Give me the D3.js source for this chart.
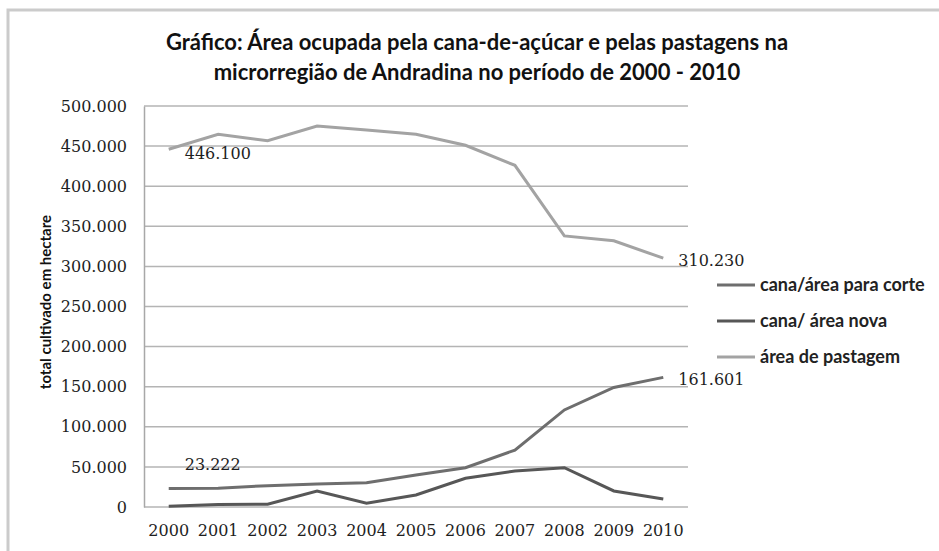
<!DOCTYPE html>
<html>
<head>
  <meta charset="utf-8">
  <title>Área ocupada pela cana-de-açúcar e pelas pastagens</title>
  <script src="https://cdn.jsdelivr.net/npm/d3@7"></script>
  <style>
    body { margin: 0; background: #fff; }
    .tick text { font-family: "DejaVu Serif", serif; fill: #1e1e1e; }
  </style>
</head>
<body>
<svg width="939" height="551"></svg>
<script>
  // dados
  const anos = ['2000','2001','2002','2003','2004','2005','2006','2007','2008','2009','2010'];
  const canaCorte = [23222, 23500, 26600, 28700, 30300, 40000, 49000, 71000, 121000, 149000, 161601];
  const canaNova = [1000, 3000, 3500, 20000, 4600, 15000, 35800, 45000, 49000, 20000, 10000];
  const pastagem = [446100, 464700, 456700, 475000, 470000, 464700, 451000, 426000, 338000, 332000, 310230];
  const yTicks = [0, 50000, 100000, 150000, 200000, 250000, 300000, 350000, 400000, 450000, 500000];

  const series = [
    {nome: 'cana/área para corte', valores: canaCorte, cor: '#6e6e6e'},
    {nome: 'cana/ área nova', valores: canaNova, cor: '#575757'},
    {nome: 'área de pastagem', valores: pastagem, cor: '#a3a3a3'}
  ];

  const svg = d3.select('svg');
  const fmt = v => d3.format(',')(v).replace(/,/g, '.');

  // moldura
  svg.append('path')
    .attr('d', 'M8,551 L8,10 L939,10')
    .attr('fill', 'none')
    .attr('stroke', '#cbcbcb')
    .attr('stroke-width', 3);

  const x = d3.scaleBand().domain(anos).range([144, 688]);
  const y = d3.scaleLinear().domain([0, 500000]).range([507, 106]);

  // grade
  svg.append('g').selectAll('line').data(yTicks).enter().append('line')
    .attr('x1', 144).attr('x2', 688)
    .attr('y1', d => y(d)).attr('y2', d => y(d))
    .attr('stroke', '#b4b4b4').attr('stroke-width', 1.5);

  const yAxis = svg.append('g')
    .attr('transform', 'translate(144,0)')
    .call(d3.axisLeft(y).tickValues(yTicks).tickFormat(fmt).tickSize(0).tickPadding(17));
  yAxis.select('.domain').attr('stroke', '#a8a8a8').attr('stroke-width', 1.5);
  yAxis.selectAll('text').attr('font-size', 16);

  const xAxis = svg.append('g')
    .attr('transform', 'translate(0,507)')
    .call(d3.axisBottom(x).tickSize(0).tickPadding(18));
  xAxis.select('.domain').remove();
  xAxis.selectAll('text').attr('font-size', 16);

  svg.append('text')
    .attr('transform', 'translate(51,302) rotate(-90)')
    .attr('text-anchor', 'middle')
    .attr('font-family', 'Lato, sans-serif')
    .attr('font-weight', 'bold')
    .attr('font-size', 15)
    .attr('fill', '#111')
    .text('total cultivado em hectare');

  // linhas
  const line = d3.line()
    .x((d, i) => x(anos[i]) + x.bandwidth() / 2)
    .y(d => y(d));

  svg.append('g').selectAll('path').data(series).enter().append('path')
    .attr('d', d => line(d.valores))
    .attr('fill', 'none')
    .attr('stroke', d => d.cor)
    .attr('stroke-width', 3);

  // rótulos de dados
  const rotulos = [
    {v: pastagem[0], i: 0, dy: 10},
    {v: pastagem[10], i: 10, dy: 8},
    {v: canaCorte[10], i: 10, dy: 8},
    {v: canaCorte[0], i: 0, dy: -18}
  ];
  svg.append('g').selectAll('text').data(rotulos).enter().append('text')
    .attr('x', d => d.i === 0 ? x(anos[0]) + x.bandwidth() / 2 + 16 : x(anos[10]) + x.bandwidth() / 2 + 15)
    .attr('y', d => y(d.v) + d.dy)
    .attr('font-family', '"DejaVu Serif", serif')
    .attr('font-size', 16)
    .attr('fill', '#1e1e1e')
    .text(d => fmt(d.v));

  // legenda
  const leg = svg.append('g').selectAll('g').data(series).enter().append('g')
    .attr('transform', (d, i) => `translate(717,${285 + i * 36})`);
  leg.append('line')
    .attr('x1', 0).attr('x2', 38)
    .attr('stroke', d => d.cor).attr('stroke-width', 3);
  leg.append('text')
    .attr('x', 43).attr('dy', '0.35em')
    .attr('font-family', 'Lato, sans-serif')
    .attr('font-weight', 'bold')
    .attr('font-size', 18)
    .attr('fill', '#222')
    .text(d => d.nome);

  // título
  svg.append('text')
    .attr('x', 477).attr('y', 50)
    .attr('text-anchor', 'middle')
    .attr('font-family', 'Lato, sans-serif')
    .attr('font-weight', 'bold')
    .attr('font-size', 22)
    .attr('fill', '#111')
    .selectAll('tspan')
    .data(['Gráfico: Área ocupada pela cana-de-açúcar e pelas pastagens na',
           'microrregião de Andradina no período de 2000 - 2010'])
    .enter().append('tspan')
    .attr('x', 477)
    .attr('dy', (d, i) => i === 0 ? 0 : 30)
    .text(d => d);
</script>
</body>
</html>
